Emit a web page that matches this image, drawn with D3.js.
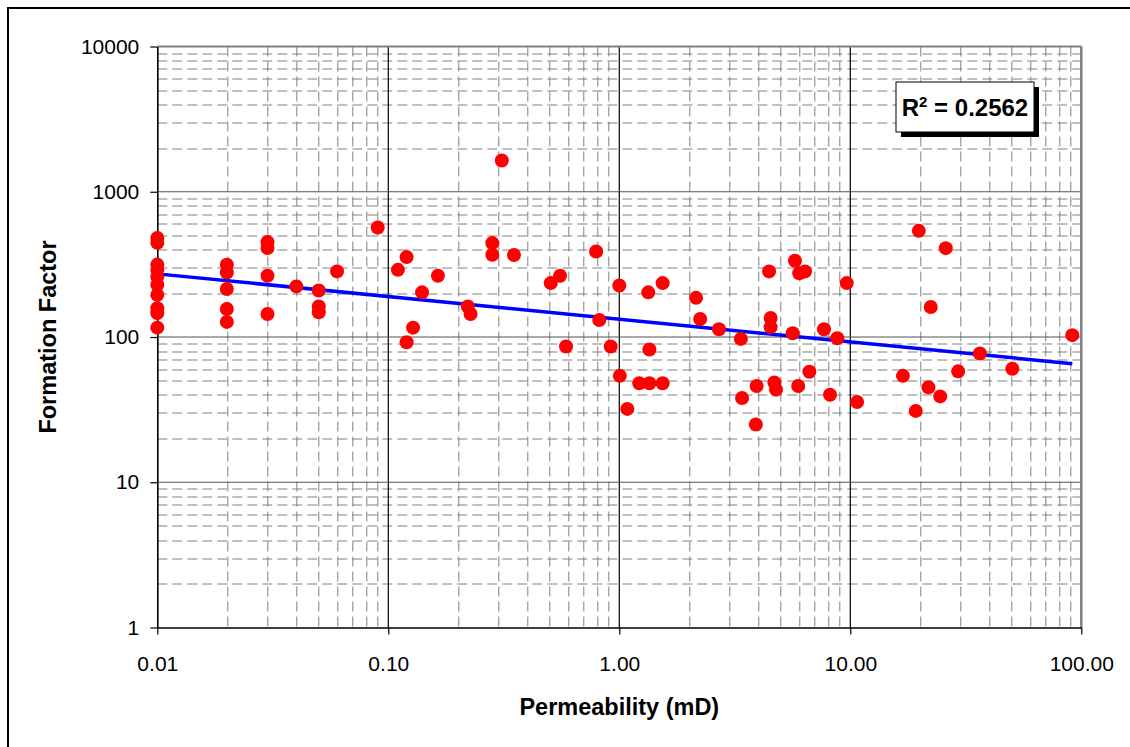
<!DOCTYPE html>
<html>
<head>
<meta charset="utf-8">
<script src="https://cdn.jsdelivr.net/npm/d3@7"></script>
<style>
  body { margin: 0; background: #fff; }
  svg { font-family: Arial, "Liberation Sans", sans-serif; }
</style>
</head>
<body>
<script>
// data
var permeability = [
  0.01, 0.01, 0.01, 0.01, 0.01, 0.01, 0.01, 0.01, 0.01, 0.01,
  0.02, 0.02, 0.02, 0.02, 0.02,
  0.03, 0.03, 0.03, 0.03,
  0.04, 0.05, 0.05, 0.05, 0.06, 0.09, 0.11, 0.12, 0.12, 0.128, 0.14, 0.164,
  0.221, 0.227, 0.282, 0.282, 0.31, 0.35, 0.505, 0.554, 0.588, 0.794, 0.819, 0.918,
  1.0, 1.005, 1.083, 1.22, 1.35, 1.35, 1.335, 1.54, 1.54,
  2.15, 2.24, 2.70, 3.36, 3.4, 3.93, 3.9,
  4.45, 4.52, 4.52, 4.69, 4.77, 5.76, 6.01, 6.37, 5.63, 5.95, 6.65, 7.69, 8.78, 8.17, 9.65,
  10.7, 19.8, 25.9, 22.3, 16.9, 19.2, 21.8, 24.5, 29.3, 36.4, 50.3, 91.4
];
var formationFactor = [
  480, 445, 315, 290, 260, 229, 195, 158, 146, 116,
  314, 278, 214, 156, 127,
  450, 410, 264, 144,
  223, 209, 162, 148, 283, 567, 290, 355, 92, 116, 203, 264,
  162, 144, 443, 368, 1640, 367, 235, 264, 86, 388, 131, 86,
  226, 54, 32, 48, 48, 82, 203, 48, 235,
  186, 133, 113, 97, 38, 46, 25,
  283, 135, 117, 48.7, 43.4, 335, 275, 283, 106, 46, 57.7, 113, 98, 40, 235,
  35.7, 538, 409, 161, 54, 31, 45, 39, 58, 77, 60.5, 103
];
// power trendline ends
var trendX = [0.01, 91.4];
var trendY = [272, 65.5];

var xTicks = [0.01, 0.1, 1, 10, 100];
var xTickLabels = ["0.01", "0.10", "1.00", "10.00", "100.00"];
var yTicks = [1, 10, 100, 1000, 10000];
var yTickLabels = ["1", "10", "100", "1000", "10000"];
var rSquared = "0.2562";

var svgWidth = 1130;
var svgHeight = 747;
var margin = { top: 46.5, left: 157.3, right: 1130 - 1081.3, bottom: 747 - 627.5 };
var width = svgWidth - margin.left - margin.right;
var height = svgHeight - margin.top - margin.bottom;

var svg = d3.select("body").append("svg")
  .attr("width", svgWidth)
  .attr("height", svgHeight);

// outer frame
svg.append("rect")
  .attr("x", 8).attr("y", 8)
  .attr("width", 1140).attr("height", 760)
  .attr("fill", "none")
  .attr("stroke", "#000")
  .attr("stroke-width", 2);

var chartGroup = svg.append("g")
  .attr("transform", `translate(${margin.left}, ${margin.top})`);

var xScale = d3.scaleLog().domain([0.01, 100]).range([0, width]);
var yScale = d3.scaleLog().domain([1, 10000]).range([height, 0]);

// minor grid values
var xMinor = [], yMinor = [];
[0.01, 0.1, 1, 10].forEach(function(d) {
  for (var i = 2; i <= 9; i++) xMinor.push(d * i);
});
[1, 10, 100, 1000].forEach(function(d) {
  for (var i = 2; i <= 9; i++) yMinor.push(d * i);
});

chartGroup.selectAll(".xminor").data(xMinor).enter().append("line")
  .attr("x1", d => Math.round(xScale(d)) + 0.5).attr("x2", d => Math.round(xScale(d)) + 0.5)
  .attr("y1", 0).attr("y2", height)
  .attr("stroke", "#808080").attr("stroke-dasharray", "10,5");

chartGroup.selectAll(".yminor").data(yMinor).enter().append("line")
  .attr("y1", d => Math.round(yScale(d)) + 0.5).attr("y2", d => Math.round(yScale(d)) + 0.5)
  .attr("x1", 0).attr("x2", width)
  .attr("stroke", "#808080").attr("stroke-dasharray", "10,5");

// major grid
chartGroup.selectAll(".xmajor").data([0.1, 1, 10]).enter().append("line")
  .attr("x1", d => xScale(d)).attr("x2", d => xScale(d))
  .attr("y1", 0).attr("y2", height)
  .attr("stroke", "#000").attr("stroke-width", 1.2);

chartGroup.selectAll(".ymajor").data([10, 100, 1000]).enter().append("line")
  .attr("y1", d => yScale(d)).attr("y2", d => yScale(d))
  .attr("x1", 0).attr("x2", width)
  .attr("stroke", "#555").attr("stroke-width", 1.2);

// plot border top / right
chartGroup.append("line").attr("x1", 0).attr("x2", width).attr("y1", 0).attr("y2", 0)
  .attr("stroke", "#808080").attr("stroke-width", 2);
chartGroup.append("line").attr("x1", width).attr("x2", width).attr("y1", 0).attr("y2", height)
  .attr("stroke", "#808080").attr("stroke-width", 2.5);

// axes
var bottomAxis = d3.axisBottom(xScale)
  .tickValues(xTicks)
  .tickFormat((d, i) => xTickLabels[i])
  .tickSize(7).tickPadding(22).tickSizeOuter(0);
var leftAxis = d3.axisLeft(yScale)
  .tickValues(yTicks)
  .tickFormat((d, i) => yTickLabels[i])
  .tickSize(7).tickPadding(11).tickSizeOuter(0);

var xAxisG = chartGroup.append("g")
  .attr("transform", `translate(0, ${height})`)
  .call(bottomAxis);
var yAxisG = chartGroup.append("g").call(leftAxis);

[xAxisG, yAxisG].forEach(function(g) {
  g.select(".domain").attr("stroke", "#000").attr("stroke-width", 1.6);
  g.selectAll(".tick line").attr("stroke", "#000").attr("stroke-width", 1.2);
  g.selectAll(".tick text")
    .attr("fill", "#000")
    .style("font-size", "21px")
    .style("font-family", "Arial, 'Liberation Sans', sans-serif");
});

// trendline
var trend = trendX.map((d, i) => [d, trendY[i]]);
chartGroup.append("path")
  .datum(trend)
  .attr("d", d3.line().x(d => xScale(d[0])).y(d => yScale(d[1])))
  .attr("fill", "none")
  .attr("stroke", "#0000ff")
  .attr("stroke-width", 3.5);

// points
var points = permeability.map((d, i) => ({ k: d, f: formationFactor[i] }));
chartGroup.selectAll("circle")
  .data(points)
  .enter()
  .append("circle")
  .attr("cx", d => xScale(d.k))
  .attr("cy", d => yScale(d.f))
  .attr("r", 7)
  .attr("fill", "#ff0000");

// r squared box
var rBox = svg.append("g").attr("transform", "translate(896, 82)");
rBox.append("rect").attr("x", 5).attr("y", 5).attr("width", 138).attr("height", 50).attr("fill", "#000");
rBox.append("rect").attr("x", 0).attr("y", 0).attr("width", 138).attr("height", 50)
  .attr("fill", "#fff").attr("stroke", "#000").attr("stroke-width", 1);
var rText = rBox.append("text")
  .attr("x", 69).attr("y", 34)
  .attr("text-anchor", "middle")
  .style("font-size", "24px")
  .style("font-weight", "bold");
rText.append("tspan").text("R");
rText.append("tspan").attr("dy", -9).style("font-size", "15px").text("2");
rText.append("tspan").attr("dy", 9).text(" = " + rSquared);

// axis titles
svg.append("text")
  .attr("x", margin.left + width / 2)
  .attr("y", 715)
  .attr("text-anchor", "middle")
  .style("font-size", "23.5px")
  .style("font-weight", "bold")
  .text("Permeability (mD)");

svg.append("text")
  .attr("transform", `translate(56, ${margin.top + height / 2}) rotate(-90)`)
  .attr("text-anchor", "middle")
  .style("font-size", "23.5px")
  .style("font-weight", "bold")
  .text("Formation Factor");
</script>
</body>
</html>
